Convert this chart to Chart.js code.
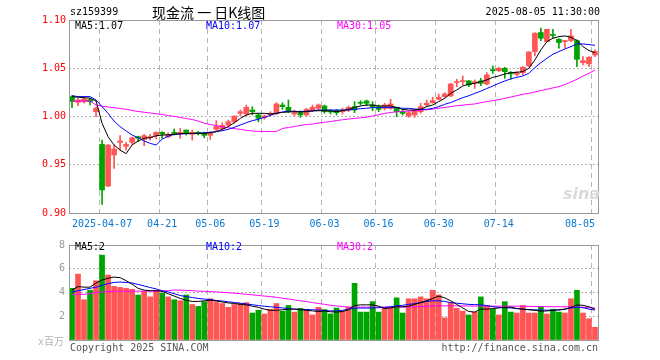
<!DOCTYPE html>
<html>
<head>
<meta charset="utf-8">
<script src="https://cdn.jsdelivr.net/npm/chart.js@4.4.0/dist/chart.umd.min.js"></script>
<style>
  body { margin: 0; background: #fff; }
  #wrap { position: relative; width: 660px; height: 360px; overflow: hidden; font-family: 'DejaVu Sans Mono', monospace; font-size: 10px; }
  canvas { position: absolute; left: 0; }
  .t { position: absolute; white-space: nowrap; line-height: 12px; }
</style>
</head>
<body>
<div id="wrap">
  <canvas id="kline" width="660" height="235" style="top:0;width:660px;height:235px"></canvas>
  <canvas id="vol" width="660" height="125" style="top:235px;width:660px;height:125px"></canvas>

  <div class="t" style="left:70px;top:6px">sz159399</div>
  <div class="t" style="left:152px;top:2px;line-height:20px;font-size:14px;font-family:'Noto Sans CJK SC'">现金流 一 日K线图</div>
  <div class="t" style="right:60px;top:6px">2025-08-05 11:30:00</div>

  <div class="t" style="left:75px;top:20px;color:#000">MA5:1.07</div>
  <div class="t" style="left:206px;top:20px;color:#0000ff">MA10:1.07</div>
  <div class="t" style="left:337px;top:20px;color:#ff00ff">MA30:1.05</div>

  <div class="t" style="left:563px;top:184px;font:italic bold 16px 'DejaVu Sans';color:#dadada">sina</div>

  <div class="t" style="left:75px;top:241px;color:#000">MA5:2</div>
  <div class="t" style="left:206px;top:241px;color:#0000ff">MA10:2</div>
  <div class="t" style="left:337px;top:241px;color:#ff00ff">MA30:2</div>

  <div class="t" style="left:38px;top:336px;color:#b4b4b4;font-family:'DejaVu Sans Mono','Noto Sans CJK SC'">x百万</div>
  <div class="t" style="left:70px;top:342px;color:#555">Copyright 2025 SINA.COM</div>
  <div class="t" style="right:62px;top:342px;color:#555">http://finance.sina.com.cn</div>
</div>

<script>
const dates = [
  '2025-03-28','2025-03-31','2025-04-01','2025-04-02','2025-04-03','2025-04-07','2025-04-08','2025-04-09','2025-04-10','2025-04-11',
  '2025-04-14','2025-04-15','2025-04-16','2025-04-17','2025-04-18','2025-04-21','2025-04-22','2025-04-23','2025-04-24','2025-04-25',
  '2025-04-28','2025-04-29','2025-04-30','2025-05-06','2025-05-07','2025-05-08','2025-05-09','2025-05-12','2025-05-13','2025-05-14',
  '2025-05-15','2025-05-16','2025-05-19','2025-05-20','2025-05-21','2025-05-22','2025-05-23','2025-05-26','2025-05-27','2025-05-28',
  '2025-05-29','2025-05-30','2025-06-03','2025-06-04','2025-06-05','2025-06-06','2025-06-09','2025-06-10','2025-06-11','2025-06-12',
  '2025-06-13','2025-06-16','2025-06-17','2025-06-18','2025-06-19','2025-06-20','2025-06-23','2025-06-24','2025-06-25','2025-06-26',
  '2025-06-27','2025-06-30','2025-07-01','2025-07-02','2025-07-03','2025-07-04','2025-07-07','2025-07-08','2025-07-09','2025-07-10',
  '2025-07-11','2025-07-14','2025-07-15','2025-07-16','2025-07-17','2025-07-18','2025-07-21','2025-07-22','2025-07-23','2025-07-24',
  '2025-07-25','2025-07-28','2025-07-29','2025-07-30','2025-07-31','2025-08-01','2025-08-04','2025-08-05'
];

const tickDates = ['2025-04-07','2025-04-21','2025-05-06','2025-05-19','2025-06-03','2025-06-16','2025-06-30','2025-07-14','2025-08-05'];
const tickTexts = ['2025-04-07','04-21','05-06','05-19','06-03','06-16','06-30','07-14','08-05'];

const opens = [
  1.0206,1.0147,1.0154,1.0175,1.0050,0.9711,0.9279,0.9601,0.9732,0.9691,
  0.9732,0.9791,0.9763,0.9780,0.9801,0.9836,0.9791,0.9836,0.9822,0.9860,
  0.9815,0.9836,0.9828,0.9805,0.9867,0.9874,0.9912,0.9946,1.0033,1.0026,
  1.0067,1.0016,0.9988,1.0019,1.0033,1.0119,1.0095,1.0026,1.0040,1.0016,
  1.0061,1.0085,1.0109,1.0061,1.0061,1.0050,1.0067,1.0102,1.0143,1.0161,
  1.0119,1.0102,1.0085,1.0085,1.0095,1.0050,1.0005,1.0016,1.0050,1.0119,
  1.0143,1.0178,1.0206,1.0213,1.0351,1.0361,1.0370,1.0344,1.0368,1.0337,
  1.0482,1.0475,1.0500,1.0455,1.0437,1.0455,1.0524,1.0673,1.0870,1.0776,
  1.0845,1.0800,1.0776,1.0787,1.0787,1.0558,1.0545,1.0638
];
const highs = [
  1.0216,1.0188,1.0195,1.0188,1.0099,0.9756,0.9711,0.9704,0.9801,0.9732,
  0.9784,0.9798,0.9815,0.9815,0.9842,0.9842,0.9832,0.9870,0.9877,0.9860,
  0.9860,0.9846,0.9838,0.9843,0.9957,0.9936,0.9964,1.0005,1.0067,1.0119,
  1.0102,1.0033,1.0016,1.0050,1.0143,1.0143,1.0171,1.0067,1.0060,1.0085,
  1.0119,1.0130,1.0119,1.0074,1.0074,1.0085,1.0109,1.0154,1.0164,1.0171,
  1.0154,1.0119,1.0137,1.0178,1.0095,1.0074,1.0050,1.0074,1.0137,1.0171,
  1.0199,1.0233,1.0247,1.0344,1.0386,1.0420,1.0372,1.0379,1.0396,1.0455,
  1.0524,1.0510,1.0510,1.0465,1.0465,1.0517,1.0669,1.0870,1.0915,1.0904,
  1.0904,1.0807,1.0787,1.0904,1.0794,1.0621,1.0621,1.0690
];
const lows = [
  1.0092,1.0112,1.0137,1.0119,0.9998,0.9089,0.9272,0.9462,0.9652,0.9652,
  0.9711,0.9739,0.9697,0.9756,0.9767,0.9774,0.9780,0.9808,0.9774,0.9808,
  0.9756,0.9808,0.9780,0.9763,0.9843,0.9853,0.9895,0.9929,1.0005,1.0005,
  1.0016,0.9946,0.9971,1.0005,1.0016,1.0074,1.0040,1.0005,0.9991,1.0005,
  1.0050,1.0061,1.0033,1.0026,1.0016,1.0026,1.0050,1.0040,1.0119,1.0109,
  1.0060,1.0050,1.0067,1.0074,0.9998,1.0016,0.9991,0.9991,1.0033,1.0102,
  1.0137,1.0171,1.0199,1.0206,1.0309,1.0327,1.0309,1.0292,1.0320,1.0327,
  1.0448,1.0465,1.0396,1.0386,1.0420,1.0430,1.0517,1.0628,1.0787,1.0776,
  1.0811,1.0707,1.0707,1.0776,1.0517,1.0534,1.0517,1.0621
];
const closes = [
  1.0154,1.0171,1.0182,1.0154,1.0085,0.9238,0.9704,0.9663,0.9746,0.9711,
  0.9780,0.9774,0.9801,0.9791,0.9836,0.9818,0.9815,0.9825,0.9836,0.9825,
  0.9836,0.9822,0.9805,0.9825,0.9895,0.9908,0.9946,1.0005,1.0050,1.0095,
  1.0050,0.9981,1.0005,1.0033,1.0130,1.0102,1.0050,1.0040,1.0016,1.0074,
  1.0095,1.0119,1.0050,1.0047,1.0040,1.0067,1.0095,1.0067,1.0137,1.0137,
  1.0102,1.0074,1.0119,1.0130,1.0050,1.0033,1.0040,1.0067,1.0102,1.0137,
  1.0164,1.0199,1.0233,1.0337,1.0361,1.0372,1.0327,1.0361,1.0344,1.0430,
  1.0475,1.0500,1.0465,1.0441,1.0448,1.0510,1.0669,1.0863,1.0811,1.0904,
  1.0839,1.0766,1.0787,1.0835,1.0593,1.0579,1.0614,1.0673
];

const ma5 = [
  1.0205,1.0200,1.0195,1.0190,1.0160,0.9930,0.9790,0.9705,0.9652,0.9615,
  0.9705,0.9746,0.9774,0.9780,0.9800,0.9808,0.9810,0.9815,0.9822,0.9825,
  0.9825,0.9825,0.9825,0.9832,0.9843,0.9867,0.9895,0.9936,0.9980,1.0016,
  1.0033,1.0033,1.0033,1.0026,1.0033,1.0043,1.0047,1.0050,1.0047,1.0050,
  1.0057,1.0060,1.0060,1.0057,1.0050,1.0060,1.0074,1.0095,1.0109,1.0119,
  1.0119,1.0109,1.0109,1.0109,1.0095,1.0074,1.0067,1.0067,1.0074,1.0102,
  1.0119,1.0154,1.0188,1.0240,1.0275,1.0316,1.0335,1.0344,1.0361,1.0379,
  1.0406,1.0420,1.0441,1.0455,1.0458,1.0465,1.0500,1.0586,1.0690,1.0776,
  1.0811,1.0828,1.0835,1.0821,1.0787,1.0724,1.0683,1.0662
];
const ma10 = [
  1.0216,1.0206,1.0206,1.0206,1.0171,1.0102,1.0033,0.9953,0.9895,0.9850,
  0.9808,0.9780,0.9746,0.9722,0.9704,0.9765,0.9795,0.9815,0.9818,0.9822,
  0.9825,0.9825,0.9832,0.9836,0.9843,0.9853,0.9867,0.9888,0.9912,0.9936,
  0.9957,0.9971,0.9991,1.0012,1.0033,1.0047,1.0054,1.0054,1.0050,1.0054,
  1.0060,1.0067,1.0067,1.0067,1.0067,1.0067,1.0067,1.0074,1.0081,1.0085,
  1.0092,1.0092,1.0092,1.0092,1.0092,1.0085,1.0085,1.0078,1.0074,1.0074,
  1.0085,1.0102,1.0126,1.0145,1.0170,1.0195,1.0215,1.0240,1.0262,1.0290,
  1.0316,1.0344,1.0368,1.0390,1.0406,1.0420,1.0448,1.0507,1.0558,1.0603,
  1.0645,1.0673,1.0700,1.0724,1.0752,1.0752,1.0745,1.0738
];
const ma30 = [
  1.0160,1.0160,1.0160,1.0160,1.0119,1.0106,1.0099,1.0091,1.0083,1.0075,
  1.0062,1.0052,1.0044,1.0036,1.0029,1.0021,1.0010,1.0000,0.9990,0.9979,
  0.9969,0.9953,0.9930,0.9917,0.9905,0.9893,0.9883,0.9874,0.9867,0.9857,
  0.9850,0.9846,0.9844,0.9844,0.9844,0.9876,0.9886,0.9896,0.9907,0.9917,
  0.9922,0.9933,0.9940,0.9948,0.9958,0.9966,0.9974,0.9980,0.9986,0.9993,
  1.0005,1.0018,1.0032,1.0042,1.0048,1.0052,1.0056,1.0060,1.0065,1.0070,
  1.0076,1.0085,1.0094,1.0103,1.0112,1.0118,1.0125,1.0130,1.0143,1.0154,
  1.0164,1.0175,1.0188,1.0202,1.0216,1.0230,1.0240,1.0254,1.0268,1.0282,
  1.0296,1.0310,1.0330,1.0358,1.0386,1.0420,1.0448,1.0482
];

// volume, millions
const volumes = [
  4.35,5.55,3.39,4.19,4.99,7.15,5.47,4.51,4.43,4.35,
  4.27,3.79,4.11,3.63,4.19,3.95,3.63,3.39,3.31,3.79,
  2.99,2.83,3.23,3.47,3.23,3.07,2.75,2.99,3.07,3.15,
  2.27,2.51,2.19,2.59,3.07,2.43,2.91,2.35,2.67,2.59,
  2.11,2.75,2.56,2.20,2.69,2.43,2.75,4.77,2.35,2.35,
  3.23,2.35,2.75,2.75,3.55,2.27,3.47,3.47,3.63,3.47,
  4.19,3.79,1.87,3.15,2.67,2.43,2.11,2.35,3.63,2.91,
  2.59,2.11,3.23,2.35,2.27,2.91,2.27,2.27,2.75,2.19,
  2.59,2.35,2.27,3.47,4.19,2.27,1.79,1.07
];
const vma5 = [
  4.20,4.50,4.45,4.45,4.80,5.05,5.20,5.30,5.25,5.00,
  4.70,4.35,4.20,4.15,4.15,4.10,3.90,3.70,3.50,3.35,
  3.25,3.25,3.30,3.35,3.30,3.20,3.12,3.08,3.00,2.96,
  2.85,2.75,2.60,2.50,2.50,2.55,2.60,2.60,2.55,2.50,
  2.45,2.40,2.45,2.38,2.35,2.40,2.55,2.90,2.96,2.96,
  2.96,2.85,2.65,2.70,2.80,2.80,2.85,3.00,3.15,3.30,
  3.50,3.70,3.55,3.30,3.00,2.70,2.40,2.35,2.60,2.60,
  2.65,2.70,2.75,2.77,2.65,2.60,2.55,2.50,2.43,2.45,
  2.50,2.55,2.60,2.75,2.95,2.92,2.80,2.60
];
const vma10 = [
  4.03,4.15,4.25,4.35,4.45,4.60,4.75,4.85,4.88,4.85,
  4.80,4.68,4.55,4.42,4.30,4.15,4.05,3.90,3.75,3.65,
  3.58,3.50,3.45,3.40,3.33,3.28,3.22,3.16,3.10,3.03,
  2.97,2.90,2.85,2.80,2.75,2.70,2.65,2.60,2.58,2.56,
  2.55,2.52,2.48,2.45,2.45,2.50,2.60,2.68,2.69,2.69,
  2.70,2.72,2.75,2.80,2.88,2.92,3.00,3.06,3.15,3.25,
  3.30,3.30,3.25,3.15,3.10,3.05,3.00,2.98,2.96,2.90,
  2.80,2.75,2.72,2.70,2.65,2.60,2.56,2.54,2.52,2.51,
  2.51,2.52,2.60,2.70,2.77,2.72,2.60,2.52
];
const vma30 = [
  3.84,3.87,3.84,3.90,4.00,4.05,4.08,4.10,4.11,4.11,
  4.11,4.11,4.11,4.11,4.12,4.13,4.15,4.21,4.20,4.18,
  4.15,4.12,4.10,4.08,4.05,4.02,3.98,3.94,3.90,3.85,
  3.80,3.75,3.70,3.66,3.60,3.52,3.45,3.38,3.30,3.24,
  3.15,3.08,3.00,2.93,2.87,2.82,2.78,2.77,2.77,2.77,
  2.77,2.77,2.77,2.77,2.77,2.77,2.77,2.80,2.82,2.85,
  2.87,2.88,2.88,2.88,2.87,2.87,2.86,2.86,2.86,2.86,
  2.85,2.85,2.85,2.85,2.85,2.85,2.83,2.82,2.82,2.81,
  2.80,2.80,2.80,2.80,2.78,2.75,2.72,2.69
];

const UP = '#ff5555', DOWN = '#00a400';
const gridGray = '#b4b4b4';
const monoFont = { family: 'DejaVu Sans Mono', size: 10 };
const candleColors = opens.map((o, i) => closes[i] >= o ? UP : DOWN);

// plain border round the plot area
const frame = {
  id: 'frame',
  afterDraw(chart) {
    const { ctx, chartArea: a } = chart;
    ctx.save();
    ctx.strokeStyle = '#999999';
    ctx.lineWidth = 1;
    ctx.strokeRect(Math.round(a.left) + 0.5, Math.round(a.top) + 0.5,
      Math.round(a.right - a.left), Math.round(a.bottom - a.top));
    ctx.restore();
  }
};

function maLine(data, color) {
  return { type: 'line', data: data, borderColor: color, borderWidth: 1,
    pointRadius: 0, tension: 0, order: 0 };
}

function xAxis(showLabels, height) {
  return {
    offset: true,
    grid: {
      offset: true,
      drawTicks: false,
      color: c => tickDates.includes(dates[c.index]) ? gridGray : 'transparent'
    },
    border: { display: false, dash: [5, 4] },
    ticks: {
      display: showLabels,
      autoSkip: false,
      maxRotation: 0,
      align: 'inner',
      padding: 5,
      color: '#0a78d2',
      font: monoFont,
      callback: (v, i) => {
        const k = tickDates.indexOf(dates[i]);
        return k >= 0 ? tickTexts[k] : '';
      }
    },
    afterFit: s => { s.height = height; }
  };
}

new Chart(document.getElementById('kline'), {
  type: 'bar',
  data: {
    labels: dates,
    datasets: [
      maLine(ma5, '#000000'),
      maLine(ma10, '#0000ff'),
      maLine(ma30, '#ff00ff'),
      {
        data: opens.map((o, i) => [o, closes[i]]),
        backgroundColor: candleColors,
        barThickness: 5,
        minBarLength: 1,
        grouped: false,
        order: 1
      },
      {
        data: lows.map((l, i) => [l, highs[i]]),
        backgroundColor: candleColors,
        barThickness: 1,
        grouped: false,
        order: 2
      }
    ]
  },
  options: {
    responsive: false,
    animation: false,
    layout: { padding: { left: 0, right: 62, top: 20, bottom: 0 } },
    plugins: { legend: { display: false }, tooltip: { enabled: false } },
    scales: {
      x: xAxis(true, 22),
      y: {
        min: 0.9,
        max: 1.1,
        grid: {
          drawTicks: false,
          color: c => (c.tick.value > 0.91 && c.tick.value < 1.09) ? gridGray : 'transparent'
        },
        border: { display: false, dash: [2, 2] },
        ticks: {
          stepSize: 0.05,
          color: '#ff0000',
          padding: 3,
          font: monoFont,
          callback: v => v.toFixed(2)
        },
        afterFit: s => { s.width = 69; }
      }
    }
  },
  plugins: [frame]
});

new Chart(document.getElementById('vol'), {
  type: 'bar',
  data: {
    labels: dates,
    datasets: [
      maLine(vma5, '#000000'),
      maLine(vma10, '#0000ff'),
      maLine(vma30, '#ff00ff'),
      {
        data: volumes,
        backgroundColor: candleColors,
        barThickness: 5,
        grouped: false,
        order: 1
      }
    ]
  },
  options: {
    responsive: false,
    animation: false,
    layout: { padding: { left: 0, right: 62, top: 5, bottom: 20 } },
    plugins: { legend: { display: false }, tooltip: { enabled: false } },
    scales: {
      x: xAxis(false, 0),
      y: {
        min: 0,
        max: 8,
        grid: {
          drawTicks: false,
          color: c => (c.tick.value > 0 && c.tick.value < 8) ? gridGray : 'transparent'
        },
        border: { display: false, dash: [2, 2] },
        ticks: {
          stepSize: 2,
          color: '#999999',
          padding: 4,
          font: monoFont,
          callback: v => v === 0 ? '' : v
        },
        afterFit: s => { s.width = 69; }
      }
    }
  },
  plugins: [frame]
});
</script>
</body>
</html>
